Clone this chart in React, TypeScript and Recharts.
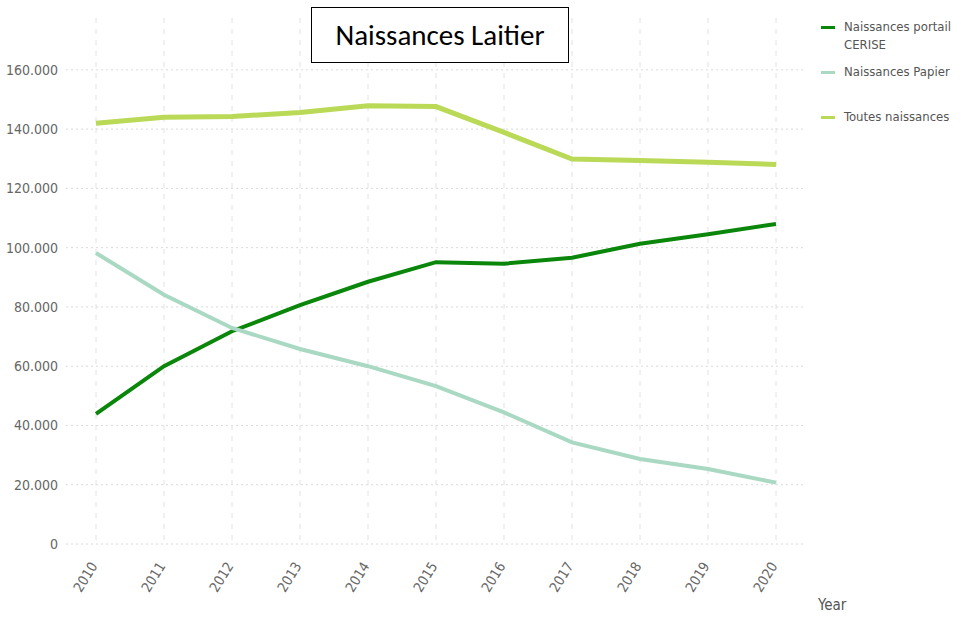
import React from 'react'
import { LineChart, Line, XAxis, YAxis, CartesianGrid } from 'recharts'

const years = ['2010', '2011', '2012', '2013', '2014', '2015', '2016', '2017', '2018', '2019', '2020']
const cerise = [43900, 60000, 71800, 80600, 88500, 95100, 94600, 96600, 101300, 104500, 108000]
const papier = [98200, 84100, 72900, 65800, 60000, 53300, 44400, 34300, 28700, 25300, 20700]
const toutes = [142000, 144000, 144300, 145600, 147900, 147600, 138900, 129900, 129400, 128800, 128100]
const yTicks = [0, 20000, 40000, 60000, 80000, 100000, 120000, 140000, 160000]

const SERIES = [
  { key: 'cerise', name: 'Naissances portail CERISE', color: '#0a860a', width: 4 },
  { key: 'papier', name: 'Naissances Papier', color: '#a9d8c3', width: 4 },
  { key: 'toutes', name: 'Toutes naissances', color: '#bad957', width: 5 },
]

const data = years.map((year, i) => ({
  year,
  cerise: cerise[i],
  papier: papier[i],
  toutes: toutes[i],
}))

const FONT = '"Liberation Sans Narrow", "DejaVu Sans Condensed", "Liberation Sans", sans-serif'

const fmt = (v: number) => (v === 0 ? '0' : v.toLocaleString('de-DE'))

function YearTick({ x, y, payload }: any) {
  return (
    <text
      x={x + 2}
      y={y + 14}
      transform={`rotate(-58, ${x + 2}, ${y + 14})`}
      textAnchor="end"
      fontSize={14}
      fill="#666"
      fontFamily={FONT}
    >
      {payload.value}
    </text>
  )
}

function YearLabel({ viewBox }: any) {
  return (
    <text x={viewBox.x + viewBox.width + 12} y={viewBox.y + 66} fontSize={15} fill="#555" fontFamily={FONT}>
      Year
    </text>
  )
}

function LegendBox() {
  return (
    <div
      style={{
        position: 'absolute',
        left: 821,
        top: 18,
        fontFamily: FONT,
        fontSize: 13,
        color: '#555',
      }}
    >
      {SERIES.map((s) => (
        <div key={s.key} style={{ display: 'flex', alignItems: 'flex-start', height: 45 }}>
          <span
            style={{
              display: 'inline-block',
              width: 14,
              height: 3,
              background: s.color,
              marginTop: 8,
              marginRight: 9,
              flexShrink: 0,
            }}
          />
          <span style={{ lineHeight: '18px', width: 112 }}>{s.name}</span>
        </div>
      ))}
    </div>
  )
}

export default function App() {
  return (
    <div style={{ position: 'fixed', left: 0, top: 0, width: 961, height: 617, background: '#fff' }}>
      <LineChart width={961} height={617} data={data} margin={{ top: 18, right: 155, left: 0, bottom: 0 }}>
        <CartesianGrid stroke="#dadada" strokeDasharray="2 3" vertical={false} syncWithTicks />
        <CartesianGrid stroke="#e2e2e2" strokeDasharray="5 6" horizontal={false} syncWithTicks />
        <XAxis
          dataKey="year"
          padding={{ left: 30, right: 30 }}
          axisLine={false}
          tickLine={false}
          height={73}
          interval={0}
          tick={<YearTick />}
          label={<YearLabel />}
        />
        <YAxis
          width={66}
          domain={[0, 177500]}
          ticks={yTicks}
          tickFormatter={fmt}
          axisLine={false}
          tickLine={false}
          tick={{ fontSize: 14, fill: '#666', fontFamily: FONT }}
        />
        {SERIES.map((s) => (
          <Line
            key={s.key}
            type="linear"
            dataKey={s.key}
            name={s.name}
            stroke={s.color}
            strokeWidth={s.width}
            dot={false}
            activeDot={false}
            isAnimationActive={false}
          />
        ))}
      </LineChart>
      <LegendBox />
      <div
        style={{
          position: 'absolute',
          left: 311,
          top: 7,
          width: 256,
          height: 54,
          border: '1.5px solid #000',
          background: '#fff',
          display: 'flex',
          alignItems: 'center',
          justifyContent: 'center',
          fontFamily: 'Carlito, "Open Sans", "Noto Sans", sans-serif',
          fontSize: 29,
          color: '#000',
        }}
      >
        Naissances Laitier
      </div>
    </div>
  )
}
